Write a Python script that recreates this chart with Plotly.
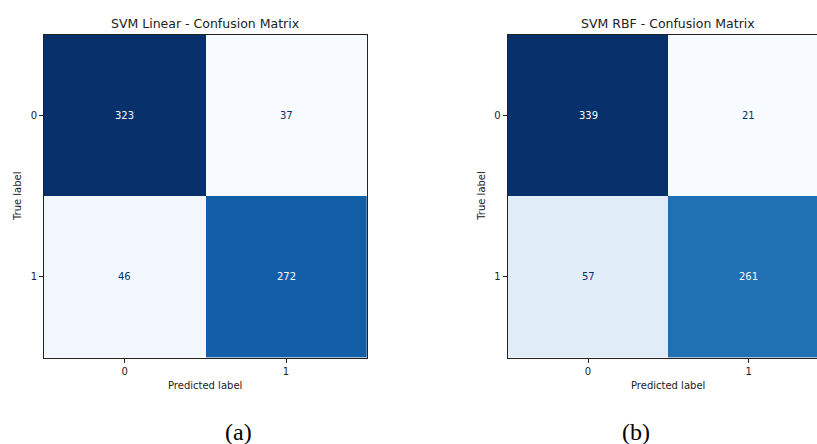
import plotly.graph_objects as go

# Confusion matrices (rows: true label, cols: predicted label)
class_labels = ["0", "1"]
linear_cm = [[323, 37],
             [46, 272]]
rbf_cm = [[339, 21],
          [57, 261]]
titles = ["SVM Linear - Confusion Matrix", "SVM RBF - Confusion Matrix"]
captions = ["(a)", "(b)"]

W, H = 817, 444

# matplotlib "Blues" colormap anchors
blues = ["#f7fbff", "#deebf7", "#c6dbef", "#9ecae1", "#6baed6",
         "#4292c6", "#2171b5", "#08519c", "#08306b"]
blues_scale = [[i / (len(blues) - 1), c] for i, c in enumerate(blues)]

# panel geometry in pixels (left, right, top, bottom)
panels = [
    dict(x0=44, x1=366.7, top=34.5, bottom=357.7),
    dict(x0=507.7, x1=829.0, top=34.5, bottom=357.7),
]

fig = go.Figure()
annotations = []

for i, (cm, title, cap, p) in enumerate(zip([linear_cm, rbf_cm], titles, captions, panels)):
    ax = "" if i == 0 else str(i + 1)
    zmin = min(min(r) for r in cm)
    zmax = max(max(r) for r in cm)
    fig.add_trace(go.Heatmap(
        z=cm, x=[0, 1], y=[0, 1],
        colorscale=blues_scale, zmin=zmin, zmax=zmax,
        showscale=False, hoverinfo="skip",
        xaxis="x" + ax, yaxis="y" + ax,
    ))

    # visible part of the panel (may run past the right page edge)
    full_w = p["x1"] - p["x0"]
    vis_x1 = min(p["x1"], W)
    xr_hi = -0.5 + 2.0 * (vis_x1 - p["x0"]) / full_w
    dom_x = [p["x0"] / W, vis_x1 / W]
    dom_y = [(H - p["bottom"]) / H, (H - p["top"]) / H]

    axis_common = dict(
        showgrid=False, zeroline=False, showline=True, mirror=True,
        linecolor="#222222", linewidth=1,
        ticks="outside", ticklen=4, tickwidth=1, tickcolor="#222222",
        tickfont=dict(family="DejaVu Sans", size=10, color="#222222"),
        tickvals=[0, 1], ticktext=class_labels,
    )
    fig.update_layout(**{
        "xaxis" + ax: dict(axis_common, domain=dom_x, range=[-0.5, xr_hi],
                           anchor="y" + ax),
        "yaxis" + ax: dict(axis_common, domain=dom_y, range=[1.5, -0.5],
                           anchor="x" + ax),
    })

    # cell value labels, white on dark cells
    thresh = (zmin + zmax) / 2.0
    for r in range(2):
        for c in range(2):
            v = cm[r][c]
            annotations.append(dict(
                x=c, y=r, xref="x" + ax, yref="y" + ax, text=str(v),
                showarrow=False,
                font=dict(family="DejaVu Sans", size=10,
                          color="#f7fbff" if v > thresh else "#08306b"),
            ))

    cx = (p["x0"] + p["x1"]) / 2.0
    cy = (p["top"] + p["bottom"]) / 2.0
    # title
    annotations.append(dict(
        x=cx / W, y=(H - 23) / H, xref="paper", yref="paper",
        text=title, showarrow=False, xanchor="center", yanchor="middle",
        font=dict(family="DejaVu Sans", size=12.5, color="#222222"),
    ))
    # x-axis title
    annotations.append(dict(
        x=cx / W, y=(H - 385) / H, xref="paper", yref="paper",
        text="Predicted label", showarrow=False, xanchor="center", yanchor="middle",
        font=dict(family="DejaVu Sans", size=10, color="#222222"),
    ))
    # y-axis title
    annotations.append(dict(
        x=(p["x0"] - 27) / W, y=(H - cy) / H, xref="paper", yref="paper",
        text="True label", showarrow=False, textangle=-90,
        xanchor="center", yanchor="middle",
        font=dict(family="DejaVu Sans", size=10, color="#222222"),
    ))
    # sub-figure caption
    cap_x = 238.5 if i == 0 else 636
    annotations.append(dict(
        x=cap_x / W, y=(H - 432) / H, xref="paper", yref="paper",
        text=cap, showarrow=False, xanchor="center", yanchor="middle",
        font=dict(family="Liberation Serif", size=24, color="#000000"),
    ))

fig.update_layout(
    width=W, height=H,
    margin=dict(l=0, r=0, t=0, b=0),
    paper_bgcolor="white", plot_bgcolor="white",
    showlegend=False,
    annotations=annotations,
)

fig.write_html("out.html")
